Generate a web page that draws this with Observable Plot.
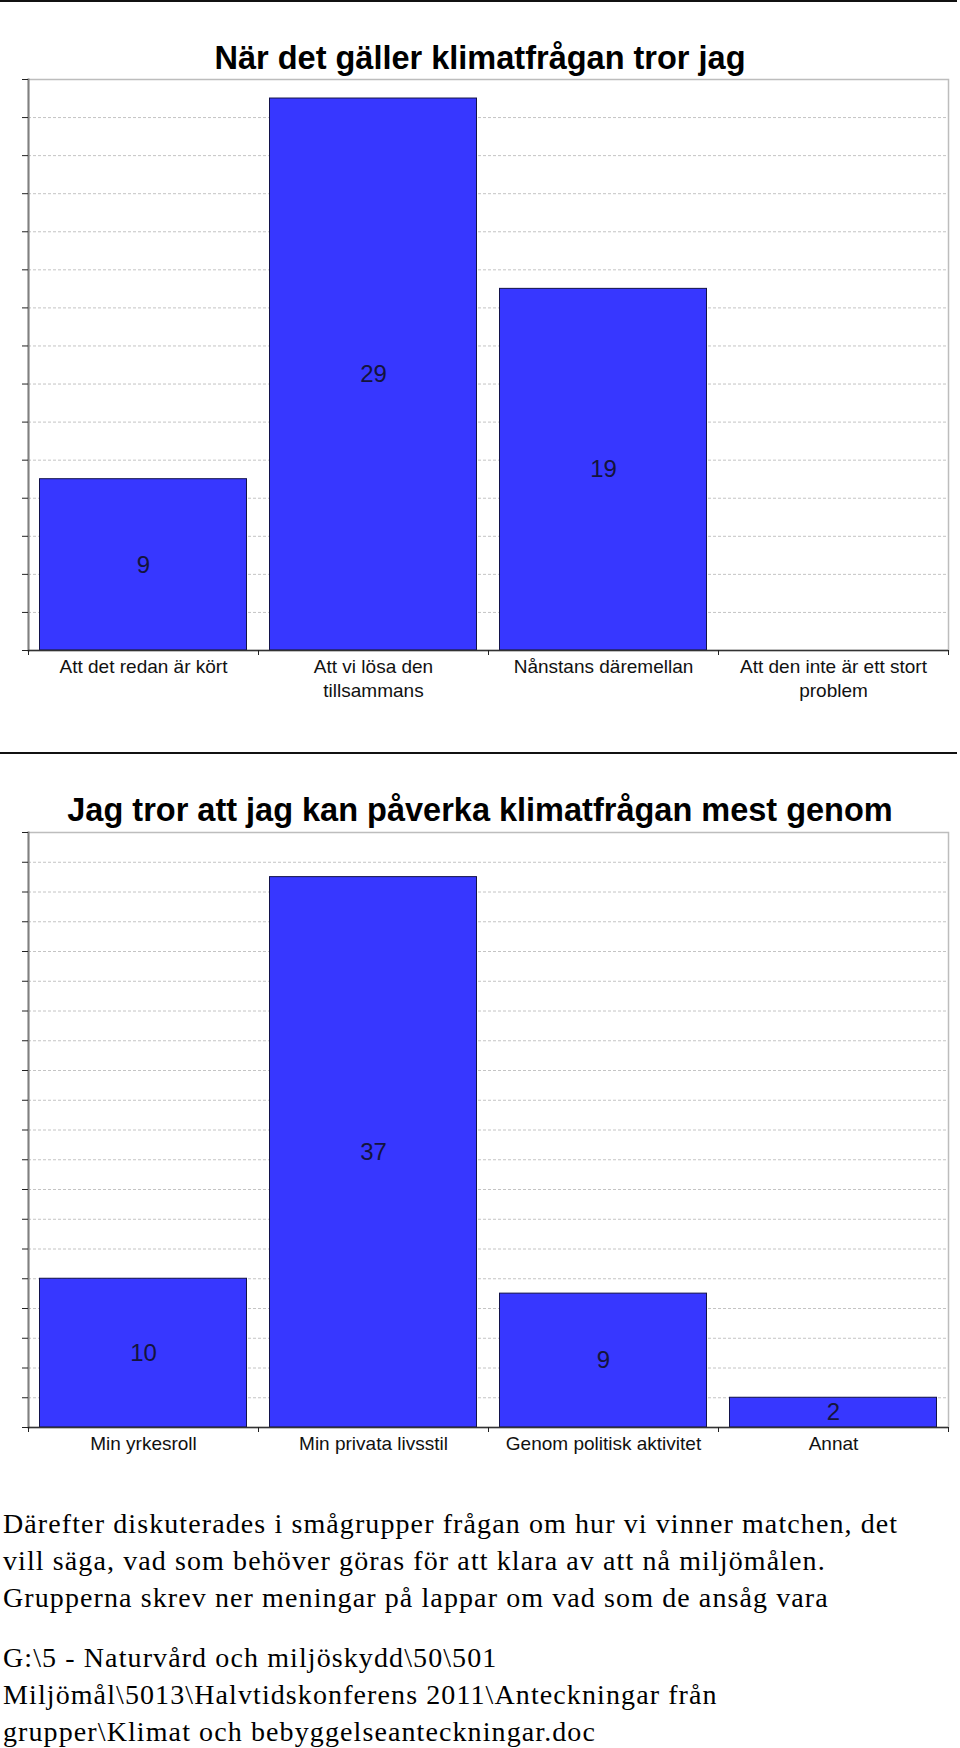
<!DOCTYPE html>
<html>
<head>
<meta charset="utf-8">
<script src="https://cdn.jsdelivr.net/npm/d3@7"></script>
<script src="https://cdn.jsdelivr.net/npm/@observablehq/plot@0.6"></script>
<style>
  html, body { margin: 0; padding: 0; background: #fff; }
  #page { position: relative; width: 960px; height: 1748px; overflow: hidden; background: #fff; }
  .rule { position: absolute; left: 0; width: 957px; height: 2px; background: #111; z-index: 2; }
  .title { position: absolute; left: 0; width: 960px; text-align: center; z-index: 3;
           font-family: "Liberation Sans", Arial, sans-serif; font-weight: bold;
           font-size: 32.5px; line-height: 32px; color: #000; }
  .chart { position: absolute; left: 0; z-index: 1; }
  .para { position: absolute; left: 3px; font-family: "Liberation Serif", "Times New Roman", serif;
          font-size: 28px; letter-spacing: 1.1px; line-height: 37px; color: #000; white-space: nowrap; }
</style>
</head>
<body>
<div id="page">
  <div class="rule" style="top:0px"></div>
  <div class="title" id="t1" style="top:42px"></div>
  <div class="chart" id="c1" style="top:70px"></div>
  <div class="rule" style="top:752px"></div>
  <div class="title" id="t2" style="top:794px"></div>
  <div class="chart" id="c2" style="top:820px"></div>
  <div class="para" id="p1" style="top:1505px"></div>
  <div class="para" id="p2" style="top:1639px"></div>
</div>
<script>
// ---- Data ----
const title1 = "När det gäller klimatfrågan tror jag";
const categories1 = ["Att det redan är kört", "Att vi lösa den tillsammans", "Nånstans däremellan", "Att den inte är ett stort problem"];
const labels1 = ["Att det redan är kört", "Att vi lösa den\ntillsammans", "Nånstans däremellan", "Att den inte är ett stort\nproblem"];
const values1 = [9, 29, 19, 0];
const yMax1 = 30;

const title2 = "Jag tror att jag kan påverka klimatfrågan mest genom";
const categories2 = ["Min yrkesroll", "Min privata livsstil", "Genom politisk aktivitet", "Annat"];
const labels2 = ["Min yrkesroll", "Min privata livsstil", "Genom politisk aktivitet", "Annat"];
const values2 = [10, 37, 9, 2];
const yMax2 = 40;

const yTickStep = 2;

const paragraph1 = [
  "Därefter diskuterades i smågrupper frågan om hur vi vinner matchen, det",
  "vill säga, vad som behöver göras för att klara av att nå miljömålen.",
  "Grupperna skrev ner meningar på lappar om vad som de ansåg vara"
];
const paragraph2 = [
  "G:\\5 - Naturvård och miljöskydd\\50\\501",
  "Miljömål\\5013\\Halvtidskonferens 2011\\Anteckningar från",
  "grupper\\Klimat och bebyggelseanteckningar.doc"
];

// ---- Drawing ----
const BAR_FILL = "#3737ff";
const BAR_STROKE = "#12124a";

function makeChart({categories, labels, values, yMax, marginTop, plotHeight, marginBottom, labelDy}) {
  const width = 960, marginLeft = 28, marginRight = 12;
  const data = categories.map((c, i) => ({cat: c, value: values[i], label: labels[i]}));
  const yTicks = d3.range(0, yMax + yTickStep / 2, yTickStep);
  const step = (width - marginLeft - marginRight) / categories.length;
  return Plot.plot({
    width,
    height: marginTop + plotHeight + marginBottom,
    marginTop, marginBottom, marginLeft, marginRight,
    style: {fontFamily: "'Liberation Sans', Arial, sans-serif", background: "transparent", overflow: "visible"},
    x: {domain: categories, paddingInner: 0.1, paddingOuter: 0.05, round: false},
    y: {domain: [0, yMax]},
    marks: [
      Plot.gridY(yTicks.filter(t => t > 0 && t < yMax), {stroke: "#c4c4c4", strokeOpacity: 1, strokeDasharray: "3,2"}),
      Plot.frame({stroke: "#bdbdbd", strokeWidth: 1.5}),
      Plot.frame({anchor: "left", stroke: "#808080", strokeWidth: 2}),
      Plot.barY(data.filter(d => d.value > 0), {x: "cat", y: "value", fill: BAR_FILL, stroke: BAR_STROKE, strokeWidth: 1}),
      Plot.ruleY([0], {stroke: "#333", strokeWidth: 1.5}),
      Plot.axisY({ticks: yTicks, tickSize: 6, tickFormat: () => "", label: null, stroke: "#222"}),
      Plot.axisX({tickSize: 5, tickFormat: () => "", label: null, dx: -step / 2, stroke: "#222"}),
      Plot.axisX(categories.slice(-1), {tickSize: 5, tickFormat: () => "", label: null, dx: step / 2, stroke: "#222"}),
      Plot.text(data.filter(d => d.value > 0), {x: "cat", y: d => d.value / 2, text: d => String(d.value),
        fontSize: 24, fill: "#14143c"}),
      Plot.text(data, {x: "cat", text: "label", frameAnchor: "bottom", lineAnchor: "top", dy: labelDy,
        fontSize: 19, lineHeight: 1.25, fill: "#111"})
    ]
  });
}

document.getElementById("t1").textContent = title1;
document.getElementById("t2").textContent = title2;

document.getElementById("c1").appendChild(makeChart({
  categories: categories1, labels: labels1, values: values1, yMax: yMax1,
  marginTop: 9, plotHeight: 571, marginBottom: 70, labelDy: 5.5
}));
document.getElementById("c2").appendChild(makeChart({
  categories: categories2, labels: labels2, values: values2, yMax: yMax2,
  marginTop: 12, plotHeight: 595, marginBottom: 50, labelDy: 6
}));

document.getElementById("p1").innerHTML = paragraph1.map(s => s.replace(/&/g, "&amp;").replace(/</g, "&lt;")).join("<br>");
document.getElementById("p2").innerHTML = paragraph2.map(s => s.replace(/&/g, "&amp;").replace(/</g, "&lt;")).join("<br>");
</script>
</body>
</html>
